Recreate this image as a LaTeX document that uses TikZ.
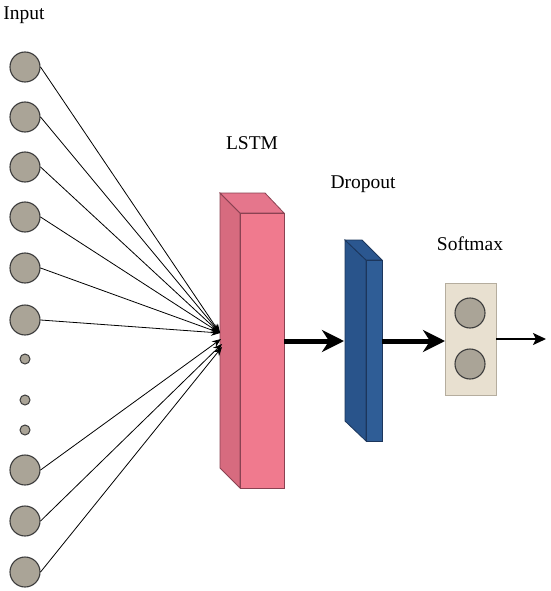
\documentclass[tikz,border=0pt]{standalone}
\usepackage{fontspec}
\setmainfont{Liberation Serif}
\usetikzlibrary{arrows.meta}
\definecolor{neuron}{HTML}{AAA497}
\definecolor{neuronline}{HTML}{3C3C3C}
\definecolor{lstmfront}{HTML}{F07A8E}
\definecolor{lstmside}{HTML}{D76B7F}
\definecolor{lstmtop}{HTML}{E5768C}
\definecolor{lstmline}{HTML}{8A4252}
\definecolor{dropfront}{HTML}{2F5D96}
\definecolor{dropside}{HTML}{29548B}
\definecolor{droptop}{HTML}{2B5790}
\definecolor{dropline}{HTML}{1C365C}
\definecolor{softbox}{HTML}{E8E0D0}
\definecolor{softline}{HTML}{B5AD9E}
\tikzset{
  bignode/.style={circle, minimum size=30pt, inner sep=0pt, fill=neuron, draw=neuronline, line width=1.1pt},
  smallnode/.style={circle, minimum size=10pt, inner sep=0pt, fill=neuron, draw=neuronline, line width=1pt},
  label text/.style={font=\fontsize{19.5}{22}\selectfont, text=black},
  inline/.style={line width=0.8pt, draw=black, -{Stealth[length=9pt,width=7pt]}},
  thickarrow/.style={line width=5pt, -{Stealth[length=22pt,width=22pt,inset=7pt]}},
  outarrow/.style={line width=1.8pt, -{Stealth[length=13pt,width=12pt,inset=3pt]}},
}
\begin{document}
\begin{tikzpicture}[x=1pt,y=-1pt]
\useasboundingbox (0,0) rectangle (550,591);
\fill[white] (0,0) rectangle (550,591);
% labels
\node[label text] (tin) at (24,15) {Input};
\node[label text] (tlstm) at (252,143) {LSTM};
\node[label text] (tdrop) at (363,184) {Dropout};
\node[label text] (tsoft) at (470,244) {Softmax};
% LSTM block
\filldraw[fill=lstmside, draw=lstmline, line width=0.8pt] (220,193) -- (240,213) -- (240,488) -- (220,468) -- cycle;
\filldraw[fill=lstmtop, draw=lstmline, line width=0.8pt] (220,193) -- (265,193) -- (284,213) -- (240,213) -- cycle;
\filldraw[fill=lstmfront, draw=lstmline, line width=0.8pt] (240,213) rectangle (284,488);
% Dropout block
\filldraw[fill=dropside, draw=dropline, line width=0.8pt] (345,240) -- (366,260) -- (366,441) -- (345,421) -- cycle;
\filldraw[fill=droptop, draw=dropline, line width=0.8pt] (345,240) -- (362,240) -- (382,260) -- (366,260) -- cycle;
\filldraw[fill=dropfront, draw=dropline, line width=0.8pt] (366,260) rectangle (382,441);
% Softmax block
\node[draw=softline, fill=softbox, line width=0.8pt, minimum width=51pt, minimum height=112pt, inner sep=0pt] (soft) at (470.5,339) {};
\node[bignode] (s1) at (470,313) {};
\node[bignode] (s2) at (470,364) {};
% Input neurons
\node[bignode] (i1) at (25,67) {};
\node[bignode] (i2) at (25,117) {};
\node[bignode] (i3) at (25,167) {};
\node[bignode] (i4) at (25,217) {};
\node[bignode] (i5) at (25,268) {};
\node[bignode] (i6) at (25,320) {};
\node[smallnode] (d1) at (25,359) {};
\node[smallnode] (d2) at (25,400) {};
\node[smallnode] (d3) at (25,430) {};
\node[bignode] (i7) at (25,470) {};
\node[bignode] (i8) at (25,521) {};
\node[bignode] (i9) at (25,572) {};
% convergence points
\coordinate (cu) at (220,333);
\coordinate (cl1) at (221,339);
\coordinate (cl2) at (222,344);
\coordinate (cl3) at (222,347);
\foreach \n in {i1,i2,i3,i4,i5,i6} \draw[inline] (\n.east) -- (cu);
\draw[inline] (i7.east) -- (cl1);
\draw[inline] (i8.east) -- (cl2);
\draw[inline] (i9.east) -- (cl3);
% arrows
\coordinate (a1s) at (284,341);
\coordinate (a1e) at (344,341);
\coordinate (a2s) at (382,341);
\coordinate (a2e) at (445,341);
\coordinate (a3e) at (546,339);
\draw[thickarrow] (a1s) -- (a1e);
\draw[thickarrow] (a2s) -- (a2e);
\draw[outarrow] (soft.east |- a3e) -- (a3e);
\end{tikzpicture}
\end{document}
